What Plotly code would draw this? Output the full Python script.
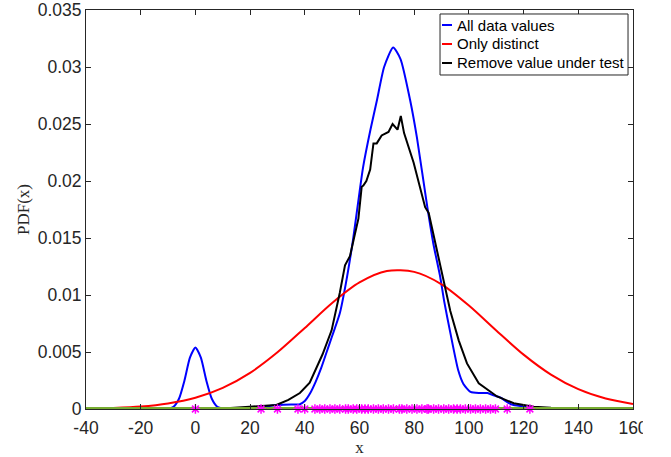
import plotly.graph_objects as go

# kde of all data values (blue)
all_x = [-40, -15, -10, -8, -6, -4, -2, 0, 2, 4, 6, 8, 10, 15, 20, 25, 30, 35, 38, 40,
         42, 44, 46, 48, 50, 52.8, 55, 57.6, 60, 61.3, 64, 66.4, 69, 72.3, 75, 78.5,
         81, 84.8, 87, 89.5, 91, 93.2, 96.1, 98, 100.6, 104, 106.8, 109, 111.6, 114,
         116.3, 121.5, 125, 130, 140, 160]
all_y = [0, 0, 0.00003, 0.0002, 0.0009, 0.0025, 0.0045, 0.0054, 0.0045, 0.0025, 0.0009,
         0.0002, 0.00005, 0.00005, 0.0001, 0.0002, 0.00035, 0.0004, 0.0004, 0.0007,
         0.0014, 0.0024, 0.0036, 0.0050, 0.0064, 0.0084, 0.0110, 0.0148, 0.0190, 0.0212,
         0.0245, 0.0271, 0.0300, 0.0317, 0.0307, 0.0271, 0.0238, 0.0177, 0.0145, 0.0116,
         0.0094, 0.0067, 0.0034, 0.0022, 0.0015, 0.0014, 0.0014, 0.0012, 0.0010, 0.0006,
         0.00035, 0.0002, 0.0001, 0.00003, 0, 0]

# only distinct values (red)
distinct_x = [-40, -30, -20, -10, 0, 10, 20, 30, 40, 50, 60, 70, 80, 90, 100, 110, 120,
              130, 140, 150, 160]
distinct_y = [0.00003, 0.00009, 0.00021, 0.00048, 0.00098, 0.00185, 0.00317, 0.00497,
              0.00711, 0.0093, 0.0111, 0.0121, 0.01203, 0.01094, 0.00908, 0.00689,
              0.00477, 0.00302, 0.00174, 0.00092, 0.00044]

# remove value under test (black)
remove_x = [-40, 10, 19.8, 29.6, 34, 38.2, 41.8, 43.7, 46.5, 49.8, 52.8, 54.7, 56.5, 58,
            59.6, 60.8, 61.4, 62.5, 63.9, 65.1, 66.3, 68.1, 70.6, 72.1, 73.9, 75.1, 76.3,
            79.8, 84.0, 85.3, 88.3, 90.8, 93.2, 96.3, 99.3, 103.6, 110.3, 116.4, 123.7,
            130, 140, 160]
remove_y = [0, 0.00005, 0.0002, 0.00035, 0.0008, 0.0014, 0.0023, 0.0033, 0.0048, 0.0069,
            0.0102, 0.0126, 0.0134, 0.0150, 0.0167, 0.0195, 0.0196, 0.0200, 0.0210, 0.0233,
            0.0233, 0.0240, 0.0243, 0.0250, 0.0245, 0.0257, 0.0242, 0.0216, 0.0177, 0.0172,
            0.0139, 0.0110, 0.0086, 0.0060, 0.0040, 0.00225, 0.0011, 0.0005, 0.0002,
            0.0001, 0, 0]

# data values shown as stars on the axis
samples = [0, 24, 30, 37.5, 40, 43.7, 45.5, 47.3, 49.2, 51, 52.8, 54.9, 55.9, 57.7, 59,
           60.8, 62, 63.2, 65.1, 66.9, 68.7, 70.6, 72.4, 74.6, 75.5, 77.3, 79.2, 81,
           82.8, 84.7, 85.2, 87.1, 88.9, 90.8, 92.6, 94.4, 95.7, 96.9, 98.7, 100.6,
           102.4, 104.2, 106.1, 107.9, 109.7, 114, 122.3]

xticks = [-40, -20, 0, 20, 40, 60, 80, 100, 120, 140, 160]
xticktext = ["-40", "-20", "0", "20", "40", "60", "80", "100", "120", "140", "160"]
yticks = [0, 0.005, 0.01, 0.015, 0.02, 0.025, 0.03, 0.035]
yticktext = ["0", "0.005", "0.01", "0.015", "0.02", "0.025", "0.03", "0.035"]

names = ["All data values", "Only distinct", "Remove value under test"]
colors = ["#0000ff", "#ff0000", "#000000"]

axcol = "#262626"
sans = "Liberation Sans"
serif = "Liberation Serif"

fig = go.Figure()
fig.add_trace(go.Scatter(x=all_x, y=all_y, mode="lines", name=names[0],
                         line=dict(color=colors[0], width=2, shape="spline", smoothing=0.6)))
fig.add_trace(go.Scatter(x=distinct_x, y=distinct_y, mode="lines", name=names[1],
                         line=dict(color=colors[1], width=2, shape="spline", smoothing=0.8)))
fig.add_trace(go.Scatter(x=remove_x, y=remove_y, mode="lines", name=names[2],
                         line=dict(color=colors[2], width=2)))
fig.add_trace(go.Scatter(x=[-40, 160], y=[0, 0], mode="lines",
                         line=dict(color="#77ac30", width=4)))
fig.add_trace(go.Scatter(x=samples, y=[0] * len(samples), mode="markers",
                         cliponaxis=False,
                         marker=dict(symbol="asterisk-open", size=8, color="#ff00ff",
                                     line=dict(color="#ff00ff", width=1.5))))

fig.update_xaxes(range=[-40, 160], tickvals=xticks, ticktext=xticktext, automargin=False,
                 ticks="inside", ticklen=5, tickcolor=axcol, mirror="ticks",
                 showline=True, linecolor=axcol, linewidth=1, showgrid=False, zeroline=False,
                 tickfont=dict(family=sans, size=17.5, color=axcol), ticklabelstandoff=3,
                 title=dict(text="x", font=dict(family=serif, size=17, color=axcol), standoff=5))
fig.update_yaxes(range=[0, 0.035], tickvals=yticks, ticktext=yticktext, automargin=False,
                 ticks="inside", ticklen=5, tickcolor=axcol, mirror="ticks",
                 showline=True, linecolor=axcol, linewidth=1, showgrid=False, zeroline=False,
                 ticklabeloverflow="allow",
                 tickfont=dict(family=sans, size=17.5, color=axcol),
                 title=dict(text="PDF(x)", font=dict(family=serif, size=17, color=axcol), standoff=3))

# legend box drawn by hand so the rows sit as close as in the original
shapes = [dict(type="rect", xref="paper", yref="paper", x0=0.6472, x1=0.9909, y0=0.8371, y1=0.990,
               fillcolor="white", line=dict(color=axcol, width=1), layer="above")]
annotations = []
rows = [0.9624, 0.9148, 0.8672]
for name, col, ry in zip(names, colors, rows):
    shapes.append(dict(type="line", xref="paper", yref="paper", x0=0.6508, x1=0.6691,
                       y0=ry, y1=ry, line=dict(color=col, width=2), layer="above"))
    annotations.append(dict(text=name, xref="paper", yref="paper", x=0.6746, y=ry,
                            xanchor="left", yanchor="middle", showarrow=False,
                            font=dict(family=sans, size=15, color="#000000")))

# the original picture is cut off just right of the last tick label
shapes.append(dict(type="rect", xref="paper", yref="paper", x0=1.018, x1=1.1, y0=-0.2, y1=1.05,
                   fillcolor="white", line=dict(width=0), layer="above"))

fig.update_layout(
    width=671, height=457,
    margin=dict(l=86, r=38, t=10, b=48),
    plot_bgcolor="white", paper_bgcolor="white",
    showlegend=False,
    shapes=shapes,
    annotations=annotations,
)

# drop the default 8px page margin so the figure fills the window exactly
fig.write_html("out.html", config={"displayModeBar": False},
               post_script="document.body.style.margin='0';")
